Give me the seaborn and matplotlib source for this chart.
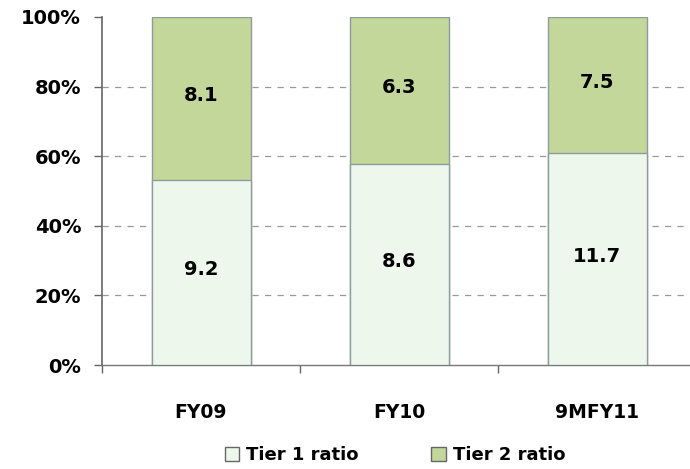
import matplotlib
matplotlib.use("Agg")
import matplotlib.pyplot as plt
import seaborn as sns
import pandas as pd
from matplotlib.patches import Patch

categories = ["FY09", "FY10", "9MFY11"]
tier1 = [9.2, 8.6, 11.7]
tier2 = [8.1, 6.3, 7.5]
series_names = ["Tier 1 ratio", "Tier 2 ratio"]
yticks = [0, 20, 40, 60, 80, 100]

sns.set_theme(style="white")
plt.rcParams['font.family'] = ['DejaVu Sans']
plt.rcParams['font.weight'] = 'bold'
plt.rcParams['text.color'] = 'black'

c1 = "#EEF7EC"
c2 = "#C4D79B"
edge = "#8C9C9C"

df = pd.DataFrame({"cat": categories, "t1": tier1, "t2": tier2})
df["total"] = df["t1"] + df["t2"]
df["p1"] = df["t1"] / df["total"] * 100
df["p100"] = 100.0

fig = plt.figure(figsize=(6.90, 4.69), dpi=100)
ax = fig.add_axes([102/690, 104/469, 594/690, 348/469])

sns.barplot(data=df, x="cat", y="p100", color=c2, width=0.5, edgecolor=edge,
            linewidth=1, saturation=1, ax=ax, zorder=3)
sns.barplot(data=df, x="cat", y="p1", color=c1, width=0.5, edgecolor=edge,
            linewidth=1, saturation=1, ax=ax, zorder=3)

for i, row in df.iterrows():
    ax.text(i, row["p1"] / 2 + 0.8, f"{row['t1']:.1f}", ha="center", va="center",
            fontsize=14, fontweight="bold", color="black", zorder=5)
    ax.text(i, row["p1"] + (100 - row["p1"]) / 2 + 0.8, f"{row['t2']:.1f}", ha="center",
            va="center", fontsize=14, fontweight="bold", color="black", zorder=5)

ax.set_xlim(-0.5, 2.5)
ax.set_ylim(0, 100)
ax.set_yticks(yticks)
ax.set_yticklabels([f"{v}%" for v in yticks], fontsize=14, fontweight="bold", color="black")
ax.set_xticks([0, 1, 2])
ax.set_xticklabels(categories, fontsize=13.5, fontweight="bold", color="black")
ax.set_xticks([-0.5, 0.5, 1.5, 2.5], minor=True)
ax.tick_params(axis="x", which="major", length=0, pad=27, bottom=True)
ax.tick_params(axis="x", which="minor", length=6, color="#666666", direction="out",
               bottom=True, width=1)
ax.tick_params(axis="y", length=6, color="#666666", direction="out", left=True, pad=9, width=1)
ax.set_xlabel("")
ax.set_ylabel("")

for y in [20, 40, 60, 80]:
    ax.axhline(y, color="#999999", linestyle=(0, (5, 5)), linewidth=0.9, zorder=1)

for s in ["top", "right"]:
    ax.spines[s].set_visible(False)
ax.spines["left"].set_color("#666666")
ax.spines["bottom"].set_color("#777777")
ax.spines["left"].set_linewidth(1.2)
ax.spines["bottom"].set_linewidth(1.0)

handles = [Patch(facecolor=c1, edgecolor="#666666", label=series_names[0]),
           Patch(facecolor=c2, edgecolor="#666666", label=series_names[1])]
fig.legend(handles=handles, loc="center", bbox_to_anchor=(395/690, 1 - 455/469),
           ncol=2, frameon=False, handlelength=0.8, handleheight=0.8,
           handletextpad=0.4, columnspacing=4.0, prop={"weight": "bold", "size": 13})

fig.savefig("out.png", dpi=100)
